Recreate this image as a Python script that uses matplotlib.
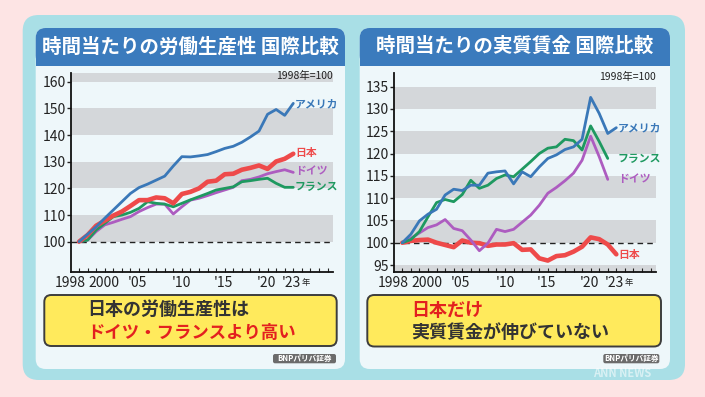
import matplotlib
matplotlib.use('Agg')
import matplotlib.pyplot as plt
import matplotlib.transforms as mtransforms
from matplotlib.patches import FancyBboxPatch, Rectangle

plt.rcParams['font.family'] = ['Noto Sans CJK JP', 'DejaVu Sans']

# data (1998 = 100)
years = list(range(1998, 2024))

prod_us = [100, 102.8, 105.6, 108.8, 111.9, 115, 118.1, 120.3, 121.6, 123.1, 124.6, 128.4, 131.9,
           131.8, 132.2, 132.7, 133.8, 135, 135.8, 137.3, 139.3, 141.5, 147.8, 149.6, 147.4, 151.9]
prod_jp = [100, 102.5, 106, 107.9, 109.8, 111.3, 113.4, 115.6, 115.6, 116.6, 116.3, 114.4, 117.9,
           118.7, 120, 122.5, 122.9, 125.3, 125.5, 127, 127.7, 128.6, 127.3, 130.1, 131.1, 133]
prod_de = [100, 100.6, 103.8, 106.3, 107.3, 108.4, 109.4, 111.3, 112.8, 114.1, 114.1, 110.4, 113.1,
           115.6, 116.3, 117.3, 118.4, 119.4, 120.4, 122.9, 123.4, 124.3, 125.5, 126.3, 127, 126]
prod_fr = [100, 100.6, 104.4, 106.9, 109.4, 110, 111, 112.5, 115, 114.4, 114.1, 113.1, 114.4,
           115.7, 116.9, 118.1, 119.4, 120, 120.6, 122.5, 122.9, 123.4, 123.8, 121.9, 120.4, 120.4]

wage_us = [100, 101.9, 104.9, 106.4, 107.5, 110.7, 112, 111.7, 112.9, 112.9, 115.6, 115.9, 116.1,
           113.2, 115.9, 114.8, 117, 118.9, 119.7, 120.9, 121.5, 123.2, 132.6, 129, 124.5, 125.8]
wage_jp = [100, 100.4, 100.6, 100.7, 100, 99.5, 99, 100.5, 100, 99.9, 99.3, 99.6, 99.6,
           99.9, 98.4, 98.5, 96.5, 96, 97, 97.2, 98, 99.1, 101.2, 100.8, 99.6, 97.4]
wage_de = [100, 101, 102.2, 103.4, 104, 105.2, 103.2, 102.7, 100.6, 98.2, 99.9, 103, 102.5,
           103, 104.6, 106.2, 108.4, 111.1, 112.4, 113.9, 115.6, 118.5, 123.9, 119.3, 114.2]
wage_fr = [100, 100.7, 102.5, 105.8, 109, 109.7, 109.2, 110.8, 114, 112.2, 112.9, 114.4, 115.2,
           114.8, 116.5, 118.2, 120, 121.2, 121.5, 123.2, 122.9, 120.8, 126.2, 122.7, 118.9]

tick_years = [1998, 2000, 2005, 2010, 2015, 2020, 2023]
tick_labels = ['1998', '2000', "'05", "'10", "'15", "'20", "'23"]
tick_shift = [-9, 7.5, -1.5, 0, -1, -1, -1.5]   # px

names = ['アメリカ', '日本', 'ドイツ', 'フランス']
colors = {'アメリカ': '#3a78b8', '日本': '#ee4a4a', 'ドイツ': '#ad5cc0', 'フランス': '#1e9960'}

PINK = '#fde4e4'
TEAL = '#a9dfe6'
PANEL = '#eef7fa'
BLUE = '#3b7bbd'
BAND = '#d4d7da'

fig = plt.figure(figsize=(7.05, 3.97), dpi=100)
fig.patch.set_facecolor(PINK)

bg = fig.add_axes([0, 0, 1, 1])
bg.set_xlim(0, 705)
bg.set_ylim(397, 0)
bg.axis('off')


def rbox(x0, y0, x1, y1, r, fc, ec='none', lw=0):
    bg.add_patch(FancyBboxPatch((x0, y0), x1 - x0, y1 - y0,
                                boxstyle='round,pad=0,rounding_size=%s' % r,
                                fc=fc, ec=ec, lw=lw))


rbox(22.7, 15, 685, 380, 16, TEAL)

panels = [
    (35.7, 345, '時間当たりの労働生産性 国際比較'),
    (359.7, 670, '時間当たりの実質賃金 国際比較'),
]
for x0, x1, title in panels:
    rbox(x0, 28, x1, 369, 10, PANEL)
    rbox(x0, 28, x1, 65.7, 10, BLUE)
    bg.add_patch(Rectangle((x0, 48), x1 - x0, 17.7, fc=BLUE, ec='none'))
    bg.text((x0 + x1) / 2, 46.5, title, color='white', fontsize=14, fontweight='bold',
            ha='center', va='center')

# yellow message boxes
rbox(44.3, 295, 336.7, 346, 7, '#ffea5c', '#3d3d3d', 1.4)
rbox(367.3, 295, 661, 346.5, 7, '#ffea5c', '#3d3d3d', 1.4)
bg.text(87.7, 309.5, '日本の労働生産性は', fontsize=13, fontweight='bold', color='#333333',
        ha='left', va='center')
bg.text(87.7, 332.5, 'ドイツ・フランスより高い', fontsize=12.5, fontweight='bold', color='#e3201f',
        ha='left', va='center')
bg.text(411.7, 310, '日本だけ', fontsize=13, fontweight='bold', color='#e3201f',
        ha='left', va='center')
bg.text(411.7, 333, '実質賃金が伸びていない', fontsize=13, fontweight='bold', color='#333333',
        ha='left', va='center')

# source tags
for x0, x1 in [(273, 336), (603.3, 659.3)]:
    rbox(x0, 354, x1, 363.3, 2, '#6b6b6b')
    bg.text((x0 + x1) / 2, 358.8, 'BNPパリバ証券', fontsize=5.5, fontweight='bold',
            color='white', ha='center', va='center')

bg.text(622, 373.5, 'ANN NEWS', fontsize=8, fontweight='bold', color='white', alpha=0.55,
        ha='center', va='center')


def draw_chart(rect, ylim, yticks, bands, series, order, label_y):
    ax = fig.add_axes(rect)
    ax.set_facecolor('none')
    ax.set_xlim(1997.03, 2027.6)
    ax.set_ylim(*ylim)
    for b0, b1 in bands:
        ax.axhspan(b0, b1, color=BAND, lw=0, zorder=0)
    ax.axhline(100, color='#222222', lw=1.0, ls=(0, (4, 3)), zorder=1)
    for name in order:
        vals = series[name]
        lw = 3.3 if name == '日本' else 2.0
        ax.plot(years[:len(vals)], vals, color=colors[name], lw=lw, zorder=3,
                solid_joinstyle='round', solid_capstyle='round')
        ax.text(2023.2, label_y[name], name, color=colors[name], fontsize=7.8,
                fontweight='bold', ha='left', va='center', clip_on=False)
    for s in ['top', 'right']:
        ax.spines[s].set_visible(False)
    for s in ['left', 'bottom']:
        ax.spines[s].set_linewidth(1.3)
        ax.spines[s].set_color('#111111')
    ax.set_yticks(yticks)
    ax.tick_params(axis='y', direction='out', length=3, width=1, pad=0.5,
                   labelsize=10, colors='#222222')
    ax.set_xticks(tick_years)
    ax.set_xticklabels(tick_labels)
    ax.set_xticks(range(1998, 2028), minor=True)
    ax.tick_params(axis='x', which='both', direction='in', length=3, width=0.8, pad=3,
                   labelsize=10, colors='#222222')
    for lab, dx in zip(ax.get_xticklabels(), tick_shift):
        lab.set_transform(lab.get_transform() +
                          mtransforms.ScaledTranslation(dx / 100, 0, fig.dpi_scale_trans))
    ax.annotate('年', xy=(2023, ylim[0]), xytext=(6, -8), textcoords='offset points',
                fontsize=6, color='#222222', ha='left', va='center', annotation_clip=False)
    ax.text(1.0, 0.983, '1998年=100', transform=ax.transAxes, fontsize=7.5,
            color='#222222', ha='right', va='center')
    return ax


prod = {'アメリカ': prod_us, '日本': prod_jp, 'ドイツ': prod_de, 'フランス': prod_fr}
wage = {'アメリカ': wage_us, '日本': wage_jp, 'ドイツ': wage_de, 'フランス': wage_fr}

draw_chart([70.7 / 705, 1 - 271.7 / 397, 262 / 705, 199 / 397],
           (88.75, 163.4), range(100, 161, 10),
           [(100, 110), (120, 130), (140, 150), (160, 170)],
           prod, ['ドイツ', 'フランス', '日本', 'アメリカ'],
           {'アメリカ': 151.5, '日本': 133.1, 'ドイツ': 126.5, 'フランス': 120.4})

draw_chart([394 / 705, 1 - 271.7 / 397, 261.7 / 705, 198.4 / 397],
           (93.5, 138), range(95, 136, 5),
           [(90, 95), (100, 105), (110, 115), (120, 125), (130, 135)],
           wage, ['日本', 'ドイツ', 'フランス', 'アメリカ'],
           {'アメリカ': 125.6, '日本': 97.2, 'ドイツ': 114.4, 'フランス': 118.8})

fig.savefig('out.png', dpi=100, facecolor=fig.get_facecolor())
